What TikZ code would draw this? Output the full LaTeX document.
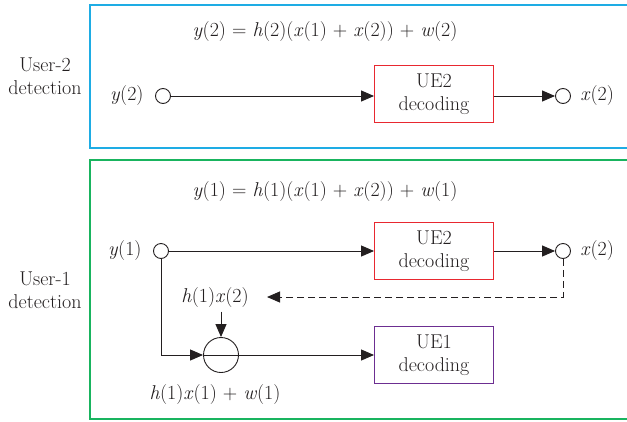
\documentclass[tikz,border=0pt]{standalone}
\usepackage{fontspec}
\usetikzlibrary{arrows.meta}

\definecolor{cyanframe}{RGB}{30,172,228}
\definecolor{greenframe}{RGB}{25,180,95}
\definecolor{redbox}{RGB}{232,40,48}
\definecolor{purplebox}{RGB}{108,46,145}
\definecolor{ink}{RGB}{35,31,32}

% italic symbols set in the text font
\newcommand{\vi}[1]{\textit{#1}}

\begin{document}
\begin{tikzpicture}[x=1pt, y=-1pt, line cap=butt,
    font=\fontsize{20}{23}\selectfont, ink,
    >={Triangle[length=13pt, width=11pt]},
    frame/.style={line width=1.2pt},
    decbox/.style={draw, line width=0.9pt, minimum width=119pt,
      minimum height=57pt, align=center, inner sep=2pt},
    port/.style={draw, circle, line width=0.9pt, minimum size=15pt,
      inner sep=0pt},
    sumnode/.style={draw, circle, line width=0.9pt, minimum size=35pt,
      inner sep=0pt},
    flow/.style={line width=1pt}]

  \useasboundingbox (0,0) rectangle (627,421);

  % frames (open to the right)
  \draw[frame, cyanframe]  (627,5)   -| (90,148)  -- (627,148);
  \draw[frame, greenframe] (627,160) -| (90,419)  -- (627,419);

  % side labels
  \node[align=center] (lab2) at (45,76)  {User-2\\detection};
  \node[align=center] (lab1) at (45,290) {User-1\\detection};

  % ---- user-2 detection ----
  \node (eq2) at (325,32)
    {\vi{y}(2) = \vi{h}(2)(\vi{x}(1) + \vi{x}(2)) + \vi{w}(2)};

  \node[port] (in2) at (163,96) {};
  \node[left=8pt] (y2) at (in2.west) {\vi{y}(2)};
  \node[decbox, draw=redbox] (dec2) at (434,94) {UE2\\decoding};
  \node[port] (out2) at (563,96) {};
  \node[right=6pt] (x2) at (out2.east) {\vi{x}(2)};

  \draw[flow, ->] (in2) -- (in2 -| dec2.west);
  \draw[flow, ->] (dec2.east |- out2) -- (out2);

  % ---- user-1 detection ----
  \node (eq1) at (325,192)
    {\vi{y}(1) = \vi{h}(1)(\vi{x}(1) + \vi{x}(2)) + \vi{w}(1)};

  \node[port] (in1) at (161,251) {};
  \node[left=8pt] (y1) at (in1.west) {\vi{y}(1)};
  \node[decbox, draw=redbox] (dec21) at (434,251) {UE2\\decoding};
  \node[port] (out1) at (563,251) {};
  \node[right=6pt] (x21) at (out1.east) {\vi{x}(2)};

  \draw[flow, ->] (in1) -- (dec21);
  \draw[flow, ->] (dec21) -- (out1);

  % interference cancellation
  \node[sumnode] (sum) at (221,355) {};
  \node (hx2) at (215,298) {\vi{h}(1)\vi{x}(2)};
  \node (hx1) at (215,395) {\vi{h}(1)\vi{x}(1) + \vi{w}(1)};
  \node[decbox, draw=purplebox] (dec1) at (434,355) {UE1\\decoding};

  \coordinate (fb) at (267,297);
  \draw[flow, dashed, dash pattern=on 7pt off 4pt, ->]
    (out1.south) |- (fb);
  \draw[flow, ->] (hx2.south -| sum.north) -- (sum.north);
  \draw[flow, ->] (in1.south) |- (sum.west);
  \draw[flow] (sum.west) -- (sum.east);
  \draw[flow, ->] (sum.east) -- (dec1);

\end{tikzpicture}
\end{document}
